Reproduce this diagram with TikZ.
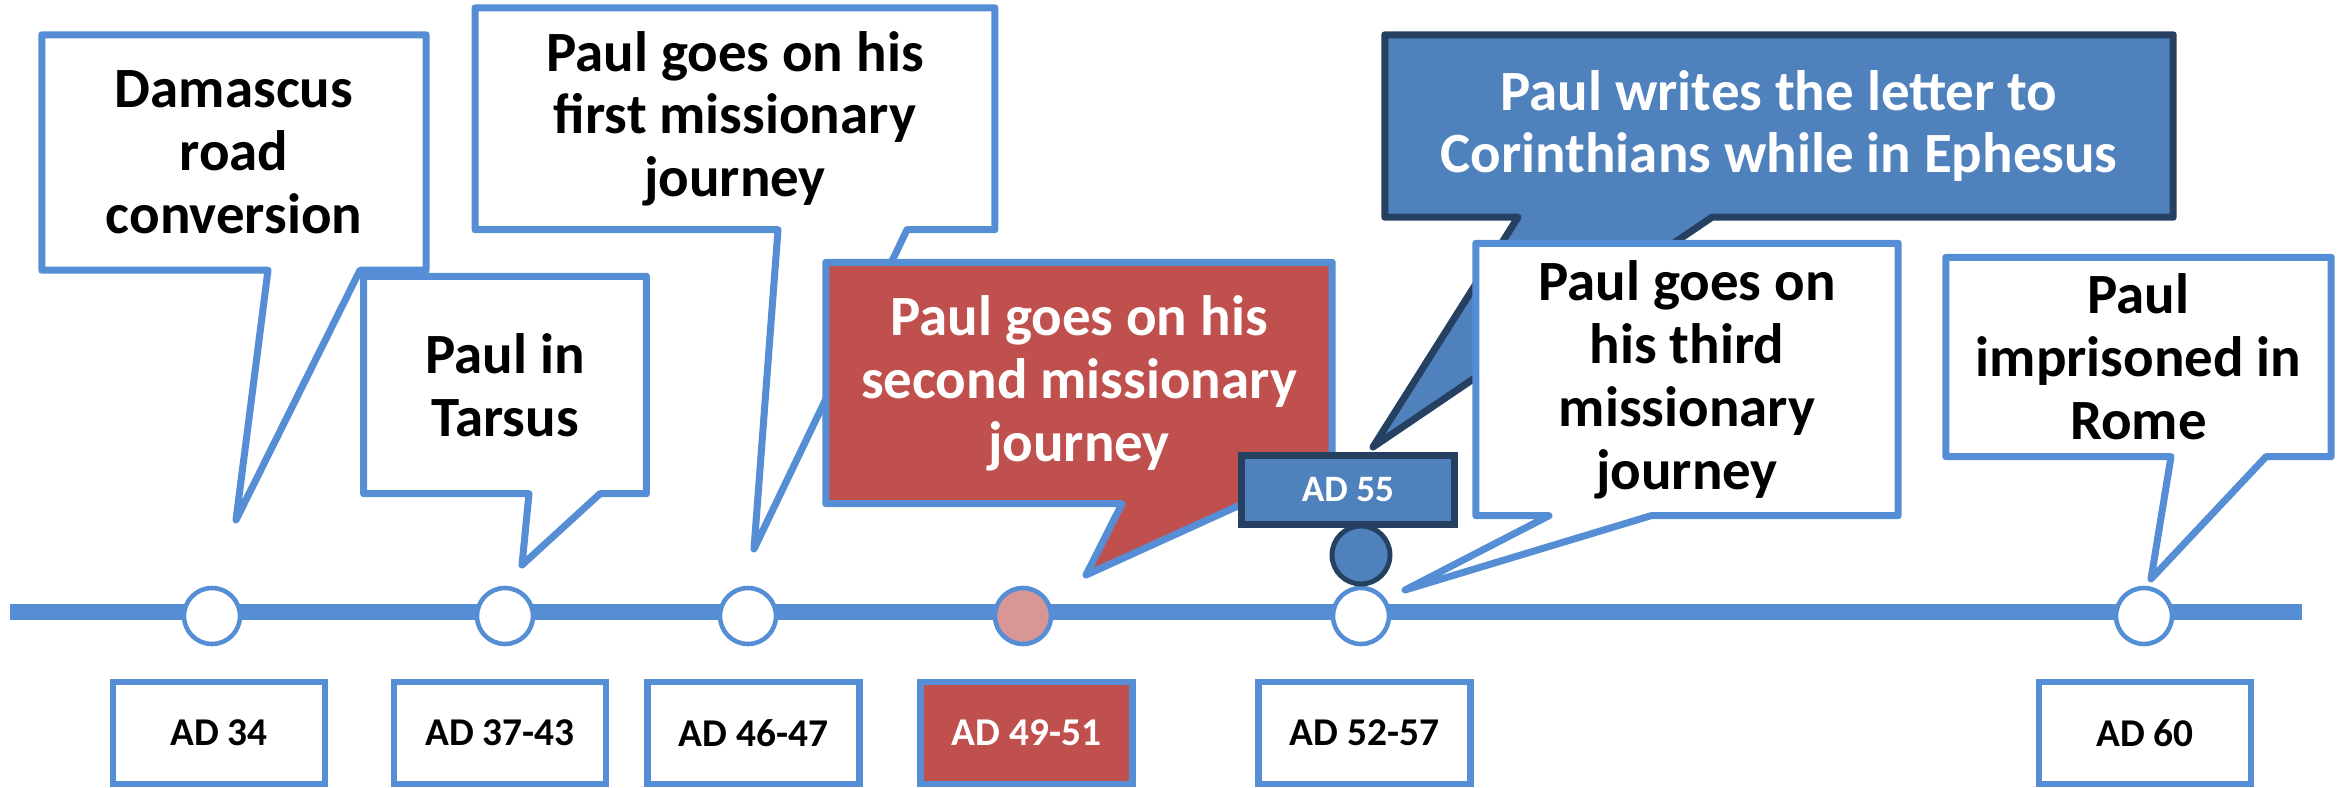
\documentclass[tikz,border=0pt]{standalone}
\usepackage{fontspec}
\setmainfont{Carlito}
\usetikzlibrary{calc,positioning}
\pgfdeclarelayer{back}
\pgfsetlayers{back,main}

\definecolor{lineblue}{RGB}{85,142,213}
\definecolor{boxred}{RGB}{192,80,77}
\definecolor{dotpink}{RGB}{217,150,148}
\definecolor{boxblue}{RGB}{79,129,189}
\definecolor{navy}{RGB}{38,64,97}

\begin{document}
\begin{tikzpicture}[
    bubtext/.style={inner sep=0pt,align=center,font=\fontsize{16.2}{17.9}\selectfont\bfseries},
    bubble/.style={draw=lineblue,line width=2pt,line join=round,fill=white},
    evt/.style={circle,draw=lineblue,line width=1.3pt,fill=white,minimum size=0.56cm,inner sep=0pt},
    datebox/.style={draw=lineblue,line width=1.9pt,fill=white,minimum width=2.12cm,minimum height=1.02cm,inner sep=0pt,font=\fontsize{11.2}{13}\selectfont\bfseries}
  ]
\useasboundingbox (0,0) rectangle (23.46,7.87);

%timeline
\coordinate (tlstart) at (0.10,1.75);
\coordinate (tlend) at (23.02,1.75);
\draw[lineblue,line width=4.6pt] (tlstart) -- (tlend);
\foreach \n/\x in {1/2.12,2/5.05,3/7.48,5/13.61,6/21.44}
  \node[evt] (c\n) at (\x,1.71) {};
\node[evt,fill=dotpink] (c4) at (10.23,1.71) {};

%dates
\node[datebox] (d1) at (2.19,0.54) {AD 34};
\node[datebox] (d2) at (5.00,0.54) {AD 37-43};
\node[datebox] (d3) at (7.535,0.54) {AD 46-47};
\node[datebox,fill=boxred,text=white] (d4) at (10.265,0.54) {AD 49-51};
\node[datebox] (d5) at (13.645,0.54) {AD 52-57};
\node[datebox] (d6) at (21.45,0.54) {AD 60};

%damascus
\node[bubtext,minimum width=3.83cm,minimum height=2.34cm] (dam) at (2.34,6.345) {Damascus\\road\\conversion};
\coordinate (damtip) at (2.36,2.67);
\begin{pgfonlayer}{back}
\draw[bubble] (dam.north west) -- (dam.north east) -- (dam.south east) -- (3.60,0 |- dam.south)
  -- (damtip) -- (2.68,0 |- dam.south) -- (dam.south west) -- cycle;
\end{pgfonlayer}

%tarsus
\node[bubtext,minimum width=2.815cm,minimum height=2.16cm] (tar) at (5.05,4.02) {Paul in\\Tarsus};
\coordinate (tartip) at (5.22,2.22);
\begin{pgfonlayer}{back}
\draw[bubble] (tar.north west) -- (tar.north east) -- (tar.south east) -- (6.00,0 |- tar.south)
  -- (tartip) -- (5.29,0 |- tar.south) -- (tar.south west) -- cycle;
\end{pgfonlayer}

%first journey
\node[bubtext,minimum width=5.185cm,minimum height=2.205cm] (fst) at (7.35,6.6825) {Paul goes on his\\first missionary\\journey};
\coordinate (fsttip) at (7.54,2.38);
\begin{pgfonlayer}{back}
\draw[bubble] (fst.north west) -- (fst.north east) -- (fst.south east) -- (9.07,0 |- fst.south)
  -- (fsttip) -- (7.78,0 |- fst.south) -- (fst.south west) -- cycle;
\end{pgfonlayer}

%second journey
\node[bubtext,text=white,minimum width=5.05cm,minimum height=2.40cm] (snd) at (10.79,4.04) {Paul goes on his\\second missionary\\journey};
\coordinate (sndtip) at (10.86,2.12);
\begin{pgfonlayer}{back}
\draw[bubble,fill=boxred] (snd.north west) -- (snd.north east) -- (snd.south east) -- (12.43,0 |- snd.south)
  -- (sndtip) -- (11.22,0 |- snd.south) -- (snd.south west) -- cycle;
\end{pgfonlayer}

%ephesus
\node[bubtext,text=white,minimum width=7.87cm,minimum height=1.81cm] (eph) at (17.79,6.61) {Paul writes the letter to\\Corinthians while in Ephesus};
\coordinate (ephtip) at (13.73,3.40);
\begin{pgfonlayer}{back}
\draw[bubble,draw=navy,fill=boxblue] (eph.north west) -- (eph.north east) -- (eph.south east) -- (17.12,0 |- eph.south)
  -- (ephtip) -- (15.18,0 |- eph.south) -- (eph.south west) -- cycle;
\end{pgfonlayer}

%third journey
\node[bubtext,minimum width=4.21cm,minimum height=2.71cm] (thd) at (16.87,4.075) {Paul goes on\\his third\\missionary\\journey};
\coordinate (thdtip) at (14.05,1.97);
\begin{pgfonlayer}{back}
\draw[bubble] (thd.north west) -- (thd.north east) -- (thd.south east) -- (16.51,0 |- thd.south)
  -- (thdtip) -- (15.49,0 |- thd.south) -- (thd.south west) -- cycle;
\end{pgfonlayer}

%rome
\node[bubtext,minimum width=3.84cm,minimum height=1.98cm] (rom) at (21.385,4.30) {Paul\\imprisoned in\\Rome};
\coordinate (romtip) at (21.51,2.08);
\begin{pgfonlayer}{back}
\draw[bubble] (rom.north west) -- (rom.north east) -- (rom.south east) -- (22.66,0 |- rom.south)
  -- (romtip) -- (21.71,0 |- rom.south) -- (rom.south west) -- cycle;
\end{pgfonlayer}

%AD 55 marker
\node[draw=navy,fill=boxblue,line width=2pt,minimum width=2.125cm,minimum height=0.685cm,inner sep=0pt,
  text=white,font=\fontsize{10.6}{12}\selectfont\bfseries] (ad55) at (13.48,2.97) {AD 55};
\node[circle,draw=navy,fill=boxblue,line width=1.4pt,minimum size=0.58cm,inner sep=0pt] (dot55) at (13.61,2.32) {};

\end{tikzpicture}
\end{document}
